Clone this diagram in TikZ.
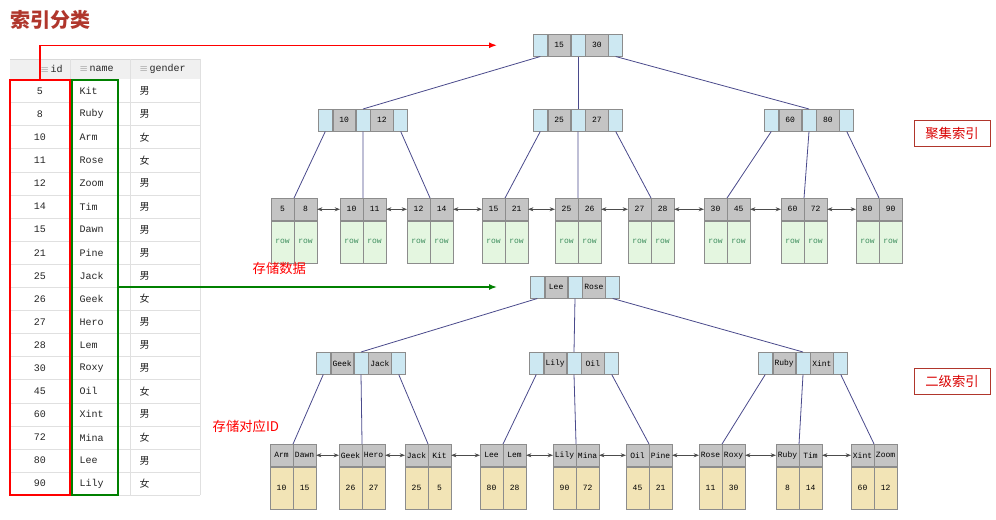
\documentclass[tikz,border=0pt]{standalone}
\usepackage{fontspec}
\setmonofont{Liberation Mono}
\newfontfamily\cjk{Noto Sans CJK SC}
\usetikzlibrary{arrows.meta}
\definecolor{cblue}{HTML}{CDE8F2}
\definecolor{cgray}{HTML}{C4C4C4}
\definecolor{cgreen}{HTML}{E4F6E0}
\definecolor{ctan}{HTML}{F2E4B6}
\definecolor{cedge}{HTML}{4A4A8C}
\definecolor{titlered}{HTML}{B0362C}
\definecolor{rowtxt}{HTML}{3E8E5E}
\tikzset{
  cell/.style={draw=black!45, line width=0.4pt, inner sep=0pt, anchor=north west, minimum height=16.5pt, font=\ttfamily\fontsize{6}{7}\selectfont},
  bcell/.style={cell, fill=cblue, minimum width=10.5pt},
  gcell/.style={cell, fill=cgray, minimum width=17pt},
  hcell/.style={cell, fill=cgray, minimum width=16.875pt},
  dcell/.style={cell, minimum width=16.875pt, minimum height=31.5pt},
  edge/.style={draw=cedge, line width=0.6pt},
  link/.style={draw=black!70, line width=0.6pt, {Stealth[length=4pt]}-{Stealth[length=4pt]}},
  tabtxt/.style={font=\ttfamily\fontsize{7.5}{9}\selectfont, text=black!85},
  lbl/.style={font=\cjk\fontsize{10}{12}\selectfont, text=red},
  tag/.style={draw=titlered, line width=0.6pt, fill=white, minimum width=57pt, minimum height=19.5pt, font=\cjk\fontsize{10}{12}\selectfont, text=red!85!black},
}
\newcommand\inode[5]{%
  \node[bcell] (#1l) at (#2,#3) {};
  \node[gcell] (#1a) at (#1l.north east) {#4};
  \node[bcell] (#1m) at (#1a.north east) {};
  \node[gcell] (#1b) at (#1m.north east) {#5};
  \node[bcell] (#1r) at (#1b.north east) {};}
\newcommand\leafnode[8]{%
  \node[hcell] (#1a) at (#2,#3) {#4};
  \node[hcell] (#1b) at (#1a.north east) {#5};
  \node[dcell, fill=#8] (#1c) at (#1a.south west) {#6};
  \node[dcell, fill=#8] (#1d) at (#1b.south west) {#7};}
\begin{document}
\begin{tikzpicture}[x=0.75pt,y=-0.75pt]
\useasboundingbox (0,0) rectangle (996,520);
\fill[white] (0,0) rectangle (996,520);
% title
\node[anchor=west, font=\cjk\bfseries\fontsize{15}{18}\selectfont, text=titlered] (title) at (6,20) {索引分类};
% table
\fill[black!6] (10,59) rectangle (200,79);
\draw[black!15] (10,59) -- (200,59);
\node[tabtxt, anchor=west] (hid) at (36,69) {\textcolor{black!50}{$\equiv$}\,id};
\node[tabtxt, anchor=west] (hname) at (75,69) {\textcolor{black!50}{$\equiv$}\,name};
\node[tabtxt, anchor=west] (hgender) at (135,69) {\textcolor{black!50}{$\equiv$}\,gender};
\foreach \i/\id/\nm/\g in {0/5/Kit/男,1/8/Ruby/男,2/10/Arm/女,3/11/Rose/女,4/12/Zoom/男,5/14/Tim/男,6/15/Dawn/男,7/21/Pine/男,8/25/Jack/男,9/26/Geek/女,10/27/Hero/男,11/28/Lem/男,12/30/Roxy/男,13/45/Oil/女,14/60/Xint/男,15/72/Mina/女,16/80/Lee/男,17/90/Lily/女}{
  \pgfmathsetmacro\yy{91+23.1*\i}
  \draw[black!12] (10,\yy+11.5) -- (200,\yy+11.5);
  \node[tabtxt] (rid\i) at (40,\yy) {\id};
  \node[tabtxt, anchor=west] (rnm\i) at (75,\yy) {\nm};
  \node[tabtxt, anchor=west, font=\cjk\fontsize{7.5}{9}\selectfont] (rg\i) at (135,\yy) {\g};
}
\draw[black!12] (70,59) -- (70,495) (130,59) -- (130,495) (200,59) -- (200,495);
\draw[red, line width=1.2pt] (10,80) rectangle (70,495);
\draw[green!50!black, line width=1.2pt] (72,80) rectangle (118,495);
% clustered tree
\inode{R}{533}{34}{15}{30}
\inode{A}{318}{109}{10}{12}
\inode{B}{533}{109}{25}{27}
\inode{C}{764}{109}{60}{80}
\coordinate (redstart) at (40,80);
\draw[red, line width=1.1pt, -{Latex[length=6pt]}, shorten >=36pt*0.75] (redstart) |- (Rl.west);
\foreach \n/\x/\a/\b in {L1/271/5/8,L2/340/10/11,L3/407/12/14,L4/482/15/21,L5/555/25/26,L6/628/27/28,L7/704/30/45,L8/781/60/72,L9/856/80/90}{
  \leafnode{\n}{\x}{198}{\a}{\b}{\textcolor{rowtxt}{row}}{\textcolor{rowtxt}{row}}{cgreen}}
\draw[edge] (Rl.south) -- (Am.north);
\draw[edge] (Rm.south) -- (Bm.north);
\draw[edge] (Rr.south) -- (Cm.north);
\draw[edge] (Al.south) -- (L1a.north east);
\draw[edge] (Am.south) -- (L2a.north east);
\draw[edge] (Ar.south) -- (L3a.north east);
\draw[edge] (Bl.south) -- (L4a.north east);
\draw[edge] (Bm.south) -- (L5a.north east);
\draw[edge] (Br.south) -- (L6a.north east);
\draw[edge] (Cl.south) -- (L7a.north east);
\draw[edge] (Cm.south) -- (L8a.north east);
\draw[edge] (Cr.south) -- (L9a.north east);
\foreach \p/\q in {L1/L2,L2/L3,L3/L4,L4/L5,L5/L6,L6/L7,L7/L8,L8/L9}{
  \draw[link] (\p b.east) -- (\q a.west);}
% secondary tree
\inode{S}{530}{276}{Lee}{Rose}
\inode{D}{316}{352}{Geek}{Jack}
\inode{E}{529}{352}{Lily}{Oil}
\inode{F}{758}{352}{Ruby}{Xint}
\coordinate (greenstart) at (118,287);
\draw[green!50!black, line width=1.1pt, -{Latex[length=6pt]}, shorten >=33pt*0.75] (greenstart) -- (greenstart -| Sl.west);
\foreach \n/\x/\a/\b/\c/\d in {M1/270/Arm/Dawn/10/15,M2/339/Geek/Hero/26/27,M3/405/Jack/Kit/25/5,M4/480/Lee/Lem/80/28,M5/553/Lily/Mina/90/72,M6/626/Oil/Pine/45/21,M7/699/Rose/Roxy/11/30,M8/776/Ruby/Tim/8/14,M9/851/Xint/Zoom/60/12}{
  \leafnode{\n}{\x}{444}{\a}{\b}{\c}{\d}{ctan}}
\draw[edge] (Sl.south) -- (Dm.north);
\draw[edge] (Sm.south) -- (Em.north);
\draw[edge] (Sr.south) -- (Fm.north);
\draw[edge] (Dl.south) -- (M1a.north east);
\draw[edge] (Dm.south) -- (M2a.north east);
\draw[edge] (Dr.south) -- (M3a.north east);
\draw[edge] (El.south) -- (M4a.north east);
\draw[edge] (Em.south) -- (M5a.north east);
\draw[edge] (Er.south) -- (M6a.north east);
\draw[edge] (Fl.south) -- (M7a.north east);
\draw[edge] (Fm.south) -- (M8a.north east);
\draw[edge] (Fr.south) -- (M9a.north east);
\foreach \p/\q in {M1/M2,M2/M3,M3/M4,M4/M5,M5/M6,M6/M7,M7/M8,M8/M9}{
  \draw[link] (\p b.east) -- (\q a.west);}
% labels
\node[lbl, anchor=west] (store1) at (248,268) {存储数据};
\node[lbl, anchor=west] (store2) at (208,426) {存储对应ID};
\node[tag] (tag1) at (952,133) {聚集索引};
\node[tag] (tag2) at (952,381) {二级索引};
\end{tikzpicture}
\end{document}
